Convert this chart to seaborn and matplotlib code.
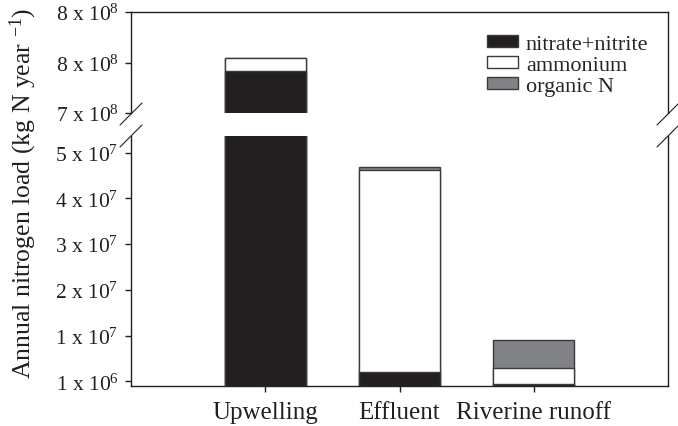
import matplotlib
matplotlib.use("Agg")
import matplotlib.pyplot as plt
import seaborn as sns
import numpy as np
from matplotlib.lines import Line2D
from matplotlib.patches import Patch

# ---- data (kg N / year) ----
sources = ["Upwelling", "Effluent", "Riverine runoff"]
nitrate = [7.416e8, 3.0e6, 4.4e5]
ammonium = [1.26e7, 4.41e7, 3.43e6]
organic = [0.0, 6.6e5, 6.25e6]

series_names = ["nitrate+nitrite", "ammonium", "organic N"]

upper_ticks = [7.0e8, 7.5e8, 8.0e8]
upper_labels = [r"7 x 10$^{8}$", r"8 x 10$^{8}$", r"8 x 10$^{8}$"]
lower_ticks = [1e6, 1.1e7, 2.1e7, 3.1e7, 4.1e7, 5.1e7]
lower_labels = [r"1 x 10$^{6}$", r"1 x 10$^{7}$", r"2 x 10$^{7}$",
                r"3 x 10$^{7}$", r"4 x 10$^{7}$", r"5 x 10$^{7}$"]

# ---- style ----
sns.set_style("ticks")
plt.rcParams["font.family"] = ["Liberation Serif", "DejaVu Serif"]
plt.rcParams["mathtext.fontset"] = "custom"
plt.rcParams["mathtext.rm"] = "Liberation Serif"
plt.rcParams["mathtext.it"] = "Liberation Serif:italic"
plt.rcParams["mathtext.bf"] = "Liberation Serif:bold"

INK = "#231f20"
EDGE = "#3c3b3c"
colors = [INK, "#ffffff", "#808285"]

W, H = 678, 427
fig = plt.figure(figsize=(W / 100, H / 100), dpi=100)

def fx(px):
    return px / W

def fy(py):
    return 1 - py / H

left, right = 131, 668
ax_up = fig.add_axes([fx(left), fy(114), fx(right - left), (114 - 13) / H])
ax_lo = fig.add_axes([fx(left), fy(387), fx(right - left), (387 - 137) / H])

nit = np.array(nitrate)
amm = np.array(ammonium)
org = np.array(organic)
cum_total = nit + amm + org
cum_na = nit + amm

for ax in (ax_up, ax_lo):
    for vals, col in [(cum_total, colors[2]), (cum_na, colors[1]), (nit, colors[0])]:
        sns.barplot(x=sources, y=vals, color=col, saturation=1, width=0.6,
                    edgecolor=EDGE, linewidth=1.0, ax=ax)
    ax.set_xlim(-1, 3)
    ax.set_xlabel("")
    ax.set_ylabel("")
    for s in ax.spines.values():
        s.set_color(INK)
        s.set_linewidth(1.0)
    ax.tick_params(axis="both", colors=INK, labelcolor="#231f20",
                   labelsize=15.5, length=4, width=1.0, direction="out", pad=5)
    ax.tick_params(axis="y", right=False)

ax_up.set_ylim(7.0e8, 8.0e8)
ax_up.set_yticks(upper_ticks)
ax_up.set_yticklabels(upper_labels)
ax_up.spines["bottom"].set_visible(False)
ax_up.tick_params(axis="x", bottom=False, labelbottom=False)

ax_lo.set_ylim(0, 5.464e7)
ax_lo.set_yticks(lower_ticks)
ax_lo.set_yticklabels(lower_labels)
ax_lo.spines["top"].set_visible(False)
ax_lo.set_xticks(range(len(sources)))
ax_lo.set_xticklabels(sources, fontsize=18)
ax_lo.tick_params(axis="x", pad=7)

# break marks
for cx in (left, right):
    for cy in (115, 137):
        fig.add_artist(Line2D([fx(cx - 11), fx(cx + 11)], [fy(cy + 11), fy(cy - 11)],
                              transform=fig.transFigure, color=INK, lw=0.8))

# y label
fig.text(fx(23), fy(193), r"Annual nitrogen load (kg N year $^{-1}$)",
         rotation=90, ha="center", va="center", fontsize=18.5, color=INK)

# legend
handles = [Patch(facecolor=c, edgecolor=EDGE, linewidth=1.0) for c in colors]
fig.legend(handles, series_names, loc="upper left",
           bbox_to_anchor=(fx(487), fy(36)), frameon=False, fontsize=16,
           borderpad=0, borderaxespad=0, handlelength=1.4, handleheight=0.45,
           handletextpad=0.35, labelspacing=0.08)

fig.savefig("out.png", dpi=100)
